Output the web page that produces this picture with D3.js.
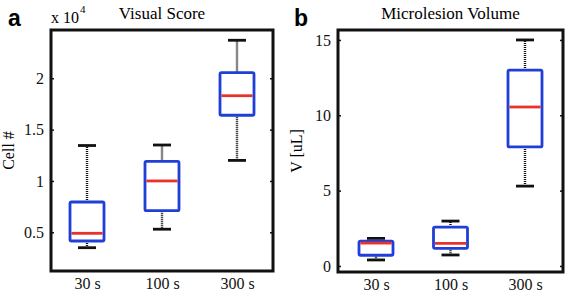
<!DOCTYPE html>
<html>
<head>
<meta charset="utf-8">
<script src="https://cdn.jsdelivr.net/npm/d3@7"></script>
<style>
  body { margin: 0; background: #fff; }
  svg { display: block; }
</style>
</head>
<body>
<div id="chart"></div>
<script>
// data
const categories = ['30 s', '100 s', '300 s'];

// panel a: cell count (x 10^4) -> [lowerWhisker, q1, median, q3, upperWhisker]
const cellLow    = [0.35, 0.53, 1.20];
const cellQ1     = [0.415, 0.71, 1.64];
const cellMedian = [0.49, 1.00, 1.83];
const cellQ3     = [0.795, 1.19, 2.055];
const cellHigh   = [1.345, 1.35, 2.37];
const cellTicks  = [0.5, 1, 1.5, 2];

// panel b: microlesion volume [uL]
const volLow    = [0.40, 0.73, 5.3];
const volQ1     = [0.71, 1.17, 7.9];
const volMedian = [1.52, 1.50, 10.55];
const volQ3     = [1.65, 2.58, 13.0];
const volHigh   = [1.83, 2.98, 15.0];
const volTicks  = [0, 5, 10, 15];

const WIDTH = 567;
const HEIGHT = 292;
const BLUE = '#1f3fd6';
const RED = '#e8332a';
const SERIF = '"Liberation Serif", "Times New Roman", serif';
const SANS = '"Liberation Sans", Arial, sans-serif';

const svg = d3.select('#chart')
    .append('svg')
        .attr('width', WIDTH)
        .attr('height', HEIGHT);

function toRows(lo, q1, med, q3, hi) {
    return categories.map((c, i) => ({
        cat: c, lo: lo[i], q1: q1[i], med: med[i], q3: q3[i], hi: hi[i],
    }));
}

function drawPanel(opts) {
    const g = svg.append('g');
    const x = d3.scalePoint()
        .domain(categories)
        .range([opts.left + opts.pad, opts.right - opts.pad]);
    const y = d3.scaleLinear()
        .domain(opts.yDomain)
        .range([opts.bottom, opts.top]);

    const boxW = 34;
    const capW = 18;

    const boxes = g.selectAll('g.box')
        .data(opts.rows)
        .join('g')
            .attr('class', 'box');

    // whiskers (dotted)
    boxes.append('line')
        .attr('x1', d => x(d.cat)).attr('x2', d => x(d.cat))
        .attr('y1', d => y(d.q3)).attr('y2', d => y(d.hi))
        .attr('stroke', '#111').attr('stroke-width', 2.4)
        .attr('stroke-dasharray', '1,1');
    boxes.append('line')
        .attr('x1', d => x(d.cat)).attr('x2', d => x(d.cat))
        .attr('y1', d => y(d.q1)).attr('y2', d => y(d.lo))
        .attr('stroke', '#111').attr('stroke-width', 2.4)
        .attr('stroke-dasharray', '1,1');

    // caps
    boxes.selectAll('line.cap')
        .data(d => [{ cat: d.cat, v: d.lo }, { cat: d.cat, v: d.hi }])
        .join('line')
            .attr('class', 'cap')
            .attr('x1', d => x(d.cat) - capW / 2)
            .attr('x2', d => x(d.cat) + capW / 2)
            .attr('y1', d => y(d.v)).attr('y2', d => y(d.v))
            .attr('stroke', '#111').attr('stroke-width', 2.8);

    // box
    boxes.append('rect')
        .attr('x', d => x(d.cat) - boxW / 2)
        .attr('width', boxW)
        .attr('y', d => y(d.q3))
        .attr('height', d => y(d.q1) - y(d.q3))
        .attr('rx', 1.5)
        .attr('fill', 'white')
        .attr('stroke', BLUE).attr('stroke-width', 2.8);

    // median
    boxes.append('line')
        .attr('x1', d => x(d.cat) - boxW / 2 + 1.4)
        .attr('x2', d => x(d.cat) + boxW / 2 - 1.4)
        .attr('y1', d => y(d.med)).attr('y2', d => y(d.med))
        .attr('stroke', RED).attr('stroke-width', 2.8);

    // axes box frame
    g.append('rect')
        .attr('x', opts.left).attr('y', opts.top)
        .attr('width', opts.right - opts.left)
        .attr('height', opts.bottom - opts.top)
        .attr('fill', 'none')
        .attr('stroke', '#111').attr('stroke-width', 3);

    // y ticks (inside, both sides)
    const yAxis = d3.axisLeft(y)
        .tickValues(opts.ticks)
        .tickSize(-3)
        .tickPadding(7)
        .tickFormat(d => String(d));
    const ya = g.append('g')
        .attr('transform', 'translate(' + opts.left + ',0)')
        .call(yAxis);
    ya.select('.domain').remove();
    ya.selectAll('line').attr('stroke', '#111').attr('stroke-width', 1.5);
    ya.selectAll('text')
        .style('font-family', SERIF)
        .style('font-size', '16px').attr('fill', '#111');

    const yAxisR = d3.axisRight(y).tickValues(opts.ticks).tickSize(-3).tickFormat('');
    const yr = g.append('g')
        .attr('transform', 'translate(' + opts.right + ',0)')
        .call(yAxisR);
    yr.select('.domain').remove();
    yr.selectAll('line').attr('stroke', '#111').attr('stroke-width', 1.5);

    // x labels
    const xAxis = d3.axisBottom(x).tickSize(0).tickPadding(7);
    const xa = g.append('g')
        .attr('transform', 'translate(0,' + opts.bottom + ')')
        .call(xAxis);
    xa.select('.domain').remove();
    xa.selectAll('text')
        .style('font-family', SERIF)
        .style('font-size', '16px').attr('fill', '#111');

    // title
    g.append('text')
        .text(opts.title)
        .attr('x', (opts.left + opts.right) / 2)
        .attr('y', 19)
        .attr('text-anchor', 'middle')
        .style('font-family', SERIF)
        .style('font-size', '17px');

    // y label
    g.append('text')
        .text(opts.yLabel)
        .attr('transform', 'translate(' + opts.yLabelX + ',' + (opts.top + opts.bottom) / 2 + ') rotate(-90)')
        .attr('text-anchor', 'middle')
        .style('font-family', SERIF)
        .style('font-size', '16px');

    // panel letter
    g.append('text')
        .text(opts.letter)
        .attr('x', opts.letterX)
        .attr('y', 26)
        .style('font-family', SANS)
        .style('font-weight', 'bold')
        .style('font-size', '23px');

    return g;
}

const ga = drawPanel({
    left: 51, right: 273, top: 30, bottom: 271, pad: 36,
    yDomain: [0.123, 2.47],
    ticks: cellTicks,
    rows: toRows(cellLow, cellQ1, cellMedian, cellQ3, cellHigh),
    title: 'Visual Score',
    yLabel: 'Cell #',
    yLabelX: 14,
    letter: 'a',
    letterX: 8,
});

// exponent label for panel a
const expo = ga.append('text')
    .attr('x', 51)
    .attr('y', 23)
    .style('font-family', SERIF)
    .style('font-size', '16px');
expo.append('tspan').text('x 10');
expo.append('tspan').text('4').attr('dx', 1).attr('dy', -10).style('font-size', '11px');

drawPanel({
    left: 338, right: 563, top: 30, bottom: 272, pad: 38,
    yDomain: [-0.4, 15.66],
    ticks: volTicks,
    rows: toRows(volLow, volQ1, volMedian, volQ3, volHigh),
    title: 'Microlesion Volume',
    yLabel: 'V [uL]',
    yLabelX: 302,
    letter: 'b',
    letterX: 294,
});
</script>
</body>
</html>
